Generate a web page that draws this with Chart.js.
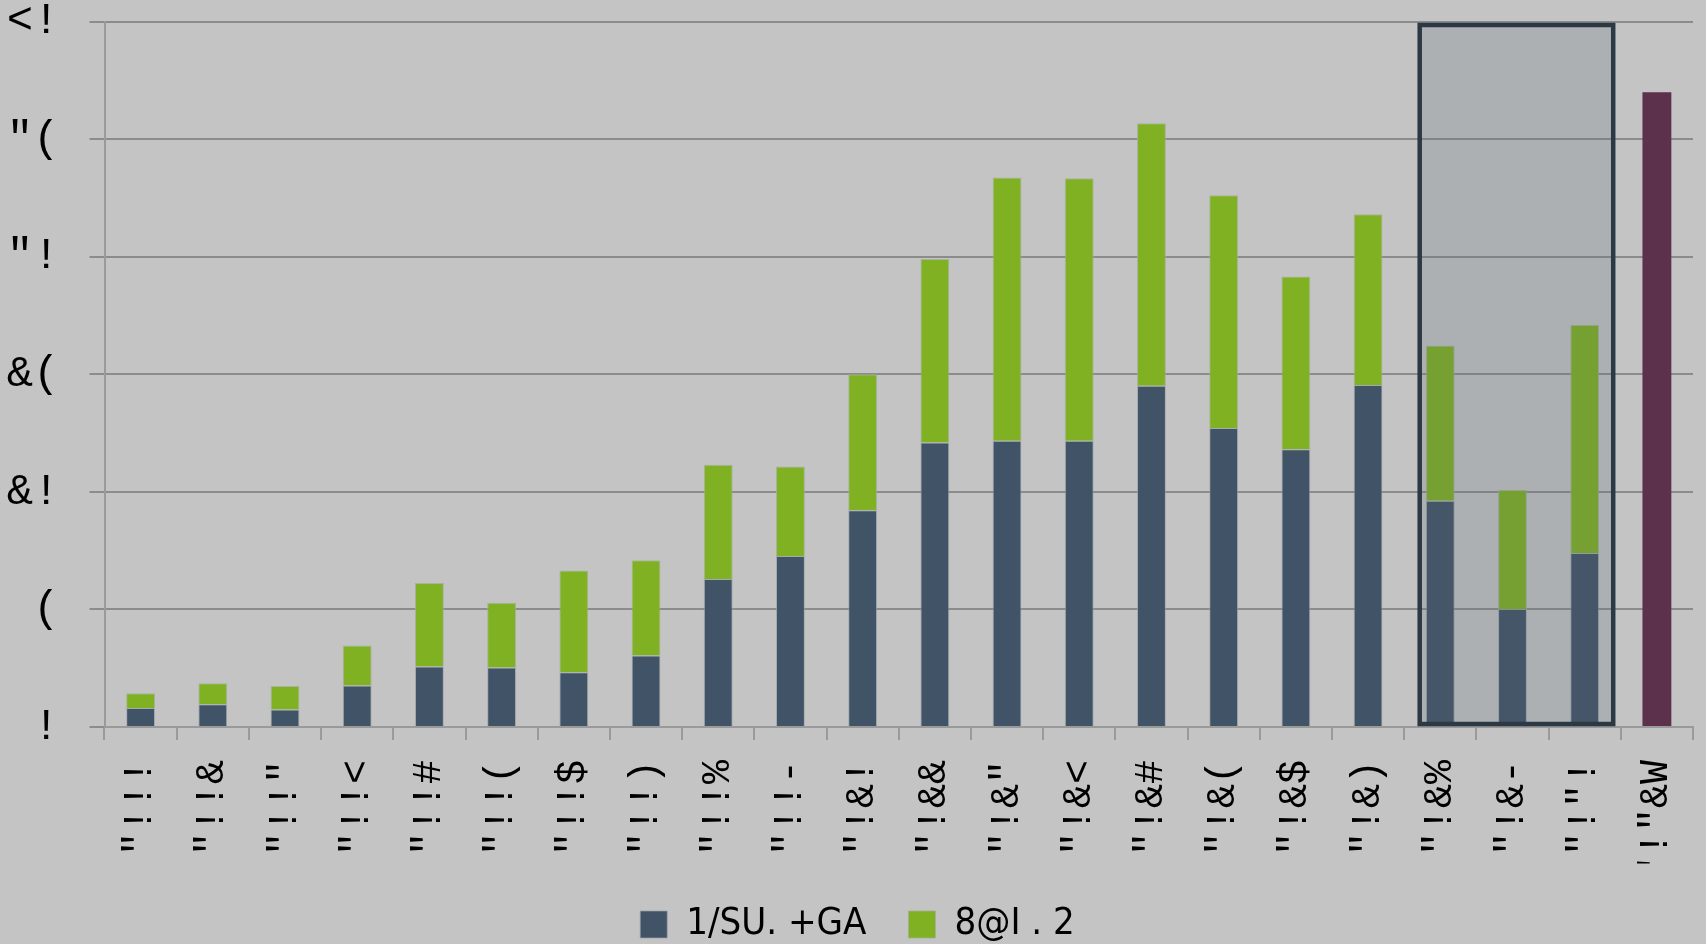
<!DOCTYPE html>
<html>
<head>
<meta charset="utf-8">
<script src="https://cdn.jsdelivr.net/npm/chart.js@4.4.0/dist/chart.umd.min.js"></script>
<style>
  html, body { margin: 0; padding: 0; background: #c4c4c4; }
  #wrap { width: 1706px; height: 944px; position: relative; }
</style>
</head>
<body>
<div id="wrap"><canvas id="chart"></canvas></div>
<script>
// categories as they appear in the picture (glyphs kept as drawn)
const categories = ['"!!!', '"!!&', '"!!"', '"!!<', '"!!#', '"!!(', '"!!$', '"!!)', '"!!%', '"!!-',
    '"!&!', '"!&&', '"!&"', '"!&<', '"!&#', '"!&(', '"!&$', '"!&)', '"!&%', '"!&-', '"!"!', '"!"&W'];

const darkValues = [0.81, 0.97, 0.74, 1.76, 2.57, 2.53, 2.33, 3.04, 6.30, 7.27,
    9.22, 12.10, 12.18, 12.18, 14.52, 12.72, 11.81, 14.55, 9.62, 5.02, 7.40, null];
const greenValues = [0.63, 0.89, 1.00, 1.71, 3.56, 2.76, 4.33, 4.05, 4.85, 3.81,
    5.78, 7.81, 11.19, 11.16, 11.16, 9.90, 7.35, 7.26, 6.61, 5.07, 9.71, null];
const forecastValues = [null, null, null, null, null, null, null, null, null, null,
    null, null, null, null, null, null, null, null, null, null, null, 27.0];

const seriesLabels = ['1/SU. +GA', '8@I . 2'];
const yTickLabels = ['!', '(', '&!', '&(', '"!', '"(', '<!'];

// boxed range of years
const highlightFrom = '"!&%';
const highlightTo = '"!"!';

const highlightBox = {
    id: 'highlightBox',
    afterDatasetsDraw(chart) {
        const { ctx, scales: { x, y } } = chart;
        const i0 = categories.indexOf(highlightFrom);
        const i1 = categories.indexOf(highlightTo);
        const step = x.getPixelForValue(1) - x.getPixelForValue(0);
        const left = x.getPixelForValue(i0) - step * 0.285;
        const right = x.getPixelForValue(i1) + step * 0.395;
        const top = y.getPixelForValue(y.max) + 3.3;
        const bottom = y.getPixelForValue(0) - 3;
        ctx.save();
        ctx.fillStyle = 'rgba(80, 100, 115, 0.2)';
        ctx.fillRect(left, top, right - left, bottom - top);
        ctx.lineWidth = 4.5;
        ctx.strokeStyle = '#2c3844';
        ctx.strokeRect(left, top, right - left, bottom - top);
        ctx.restore();
    }
};

// legend padding is also used vertically, trim the box a bit and nudge it right
const legendTrim = {
    id: 'legendTrim',
    beforeLayout(chart) {
        const legend = chart.legend;
        if (!legend || legend._trimmed) return;
        const fit = legend.fit;
        legend.fit = function () {
            fit.call(this);
            this.height -= 9.5;
        };
        legend._trimmed = true;
    },
    afterLayout(chart) {
        chart.legend.left += 11;
        chart.legend.right += 11;
    }
};

new Chart(document.getElementById('chart'), {
    type: 'bar',
    data: {
        labels: categories,
        datasets: [
            {
                label: seriesLabels[0],
                data: darkValues,
                backgroundColor: '#415366',
                borderColor: 'rgba(150, 160, 165, 0.7)',
                borderWidth: 1,
            },
            {
                label: seriesLabels[1],
                data: greenValues,
                backgroundColor: '#80b122',
                borderColor: 'rgba(160, 175, 150, 0.8)',
                borderWidth: 1,
            },
            {
                label: categories[categories.length - 1],
                data: forecastValues,
                backgroundColor: '#5b314b',
                borderWidth: 0,
            },
        ],
    },
    options: {
        responsive: true,
        maintainAspectRatio: false,
        animation: false,
        datasets: {
            bar: { categoryPercentage: 1, barPercentage: 0.4 },
        },
        layout: { padding: { top: 0, right: 13, bottom: 0, left: 0 } },
        plugins: {
            tooltip: { enabled: false },
            legend: {
                position: 'bottom',
                labels: {
                    boxWidth: 27,
                    boxHeight: 27,
                    padding: 42,
                    color: '#000',
                    font: { family: '"Liberation Sans Narrow", "DejaVu Sans Condensed", "Liberation Sans", sans-serif', size: 38 },
                    filter: item => item.datasetIndex < 2,
                },
            },
        },
        scales: {
            x: {
                stacked: true,
                grid: {
                    display: true,
                    drawOnChartArea: false,
                    drawTicks: true,
                    tickLength: 13,
                    color: '#9a9a9a',
                    lineWidth: 2,
                    offset: true,
                },
                border: { display: true, color: '#9a9a9a', width: 2 },
                ticks: {
                    autoSkip: false,
                    minRotation: 90,
                    maxRotation: 90,
                    padding: 20,
                    color: '#000',
                    font: { family: 'Liberation Mono', size: 40 },
                },
                afterFit(scale) {
                    scale.height = 136.5;
                    scale.paddingLeft = 0;
                    scale.paddingRight = 0;
                },
            },
            y: {
                stacked: true,
                min: 0,
                max: 30,
                ticks: {
                    stepSize: 5,
                    padding: 30,
                    color: '#000',
                    font: { family: 'Liberation Mono', size: 44 },
                    callback: value => yTickLabels[value / 5],
                },
                grid: { color: '#8c8c8c', lineWidth: 2, tickLength: 15 },
                border: { display: true, color: '#9a9a9a', width: 2 },
                afterFit(scale) {
                    scale.width = 104.5;
                    scale.paddingTop = 21.7;
                    scale.paddingBottom = 0;
                },
            },
        },
    },
    plugins: [highlightBox, legendTrim],
});
</script>
</body>
</html>
